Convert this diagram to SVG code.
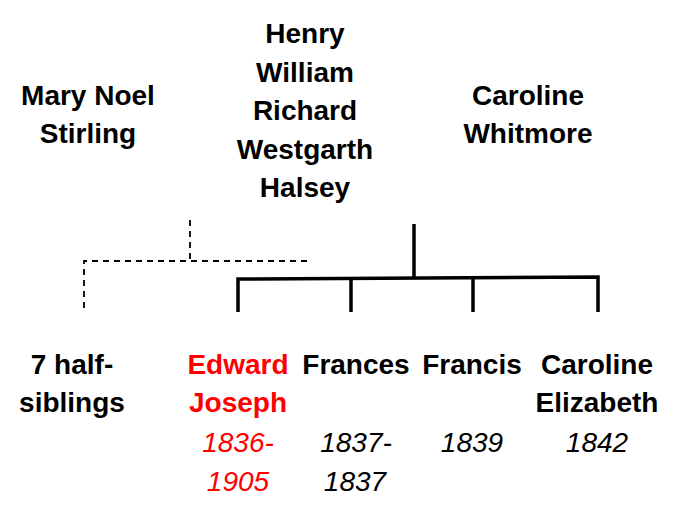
<svg xmlns="http://www.w3.org/2000/svg" width="684" height="508" viewBox="0 0 684 508">
<style>
text{font-family:"Liberation Sans",Arial,sans-serif;font-size:28px;text-anchor:middle;fill:#000}
.b{font-weight:bold}
.i{font-style:italic}
.red{fill:#ff0000}
.solid{stroke:#000;stroke-width:3.5;fill:none}
.dash{stroke:#000;stroke-width:1.8;fill:none;stroke-dasharray:6,5}
</style>
<rect width="684" height="508" fill="#fff"/>
<g id="connectors">
<path class="dash" d="M190,220 V262"/>
<path class="dash" d="M307,261 H84 V309"/>
<path class="solid" d="M414,224 V278"/>
<path class="solid" d="M238,312 V279 L598,277 V312"/>
<path class="solid" d="M351,279 V312"/>
<path class="solid" d="M473,278 V312"/>
</g>
<g id="mary"><text class="b" x="88" y="105">Mary Noel</text><text class="b" x="88" y="143">Stirling</text></g>
<g id="henry"><text class="b" x="305" y="43">Henry</text><text class="b" x="305" y="82">William</text><text class="b" x="305" y="120">Richard</text><text class="b" x="305" y="159">Westgarth</text><text class="b" x="305" y="197">Halsey</text></g>
<g id="caroline"><text class="b" x="528" y="105">Caroline</text><text class="b" x="528" y="143">Whitmore</text></g>
<g id="halfsiblings"><text class="b" x="72" y="374">7 half-</text><text class="b" x="72" y="412">siblings</text></g>
<g id="edward"><text class="b red" x="238" y="374">Edward</text><text class="b red" x="238" y="412">Joseph</text><text class="i red" x="238" y="452">1836-</text><text class="i red" x="238" y="491">1905</text></g>
<g id="frances"><text class="b" x="356" y="374">Frances</text><text class="i" x="356" y="452">1837-</text><text class="i" x="355" y="491">1837</text></g>
<g id="francis"><text class="b" x="472" y="374">Francis</text><text class="i" x="472" y="452">1839</text></g>
<g id="carolineE"><text class="b" x="597" y="374">Caroline</text><text class="b" x="597" y="412">Elizabeth</text><text class="i" x="597" y="452">1842</text></g>
</svg>
